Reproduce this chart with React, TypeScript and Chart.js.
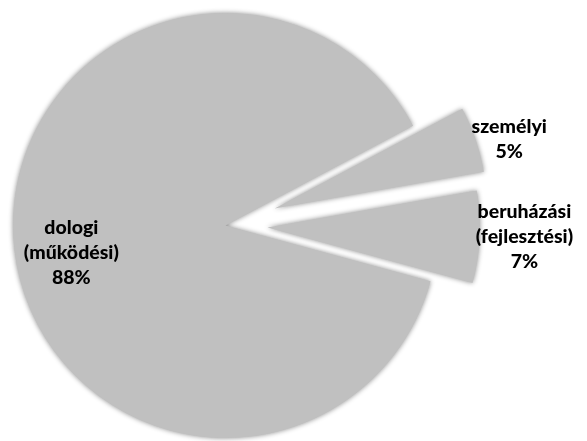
import React, { useEffect, useRef } from "react";
import { Chart, registerables } from "chart.js";

Chart.register(...registerables);

const categories: string[][] = [["személyi"], ["beruházási", "(fejlesztési)"], ["dologi", "(működési)"]];
const values: number[] = [5, 7, 88];
const percentLabels: string[] = ["5%", "7%", "88%"];

const SLICE_COLOR = "#c0c0c0";
const EXPLODE = [52, 42, 0];

const explodePlugin = {
  id: "explode",
  beforeDatasetsDraw(chart: any) {
    const meta = chart.getDatasetMeta(0);
    const ca = chart.chartArea;
    const cx = (ca.left + ca.right) / 2;
    const cy = (ca.top + ca.bottom) / 2;
    meta.data.forEach((arc: any, i: number) => {
      const mid = (arc.startAngle + arc.endAngle) / 2;
      const d = EXPLODE[i] || 0;
      arc.x = cx + Math.cos(mid) * d;
      arc.y = cy + Math.sin(mid) * d;
    });
    const ctx = chart.ctx;
    ctx.save();
    ctx.shadowColor = "rgba(0,0,0,0.45)";
    ctx.shadowBlur = 5;
    ctx.shadowOffsetX = 0;
    ctx.shadowOffsetY = 0;
  },
  afterDatasetsDraw(chart: any) {
    chart.ctx.restore();
  },
};

const labelPlugin = {
  id: "sliceLabels",
  afterDraw(chart: any) {
    const ctx = chart.ctx;
    const meta = chart.getDatasetMeta(0);
    const lineH = 25;
    ctx.save();
    ctx.font = "900 19.5px Lato";
    ctx.fillStyle = "#000";
    ctx.textBaseline = "middle";
    ctx.textAlign = "center";
    meta.data.forEach((arc: any, i: number) => {
      const lines = [...categories[i], percentLabels[i]];
      const mid = (arc.startAngle + arc.endAngle) / 2;
      const r = arc.outerRadius;
      let x: number, y: number;
      if (values[i] > 50) {
        x = arc.x + Math.cos(mid) * r * 0.73;
        y = arc.y + Math.sin(mid) * r * 0.73 + 10;
      } else {
        const px = arc.x + Math.cos(mid) * r;
        const py = arc.y + Math.sin(mid) * r;
        const w = Math.max(...lines.map((l) => ctx.measureText(l).width));
        x = px - 4 + w / 2;
        y = py;
      }
      const top = y - ((lines.length - 1) * lineH) / 2;
      lines.forEach((l, k) => ctx.fillText(l, x, top + k * lineH));
    });
    ctx.restore();
  },
};

export default function App() {
  const ref = useRef<HTMLCanvasElement>(null);
  useEffect(() => {
    if (!ref.current) return;
    const chart = new Chart(ref.current, {
      type: "pie",
      data: {
        labels: categories.map((c) => c.join(" ")),
        datasets: [
          {
            data: values,
            backgroundColor: SLICE_COLOR,
            borderWidth: 0,
            radius: 212.5,
          } as any,
        ],
      },
      options: {
        responsive: false,
        animation: false,
        rotation: 62,
        layout: { padding: { left: 0, right: 136, top: 10, bottom: 0 } },
        plugins: { legend: { display: false }, tooltip: { enabled: false } },
        events: [],
      } as any,
      plugins: [explodePlugin, labelPlugin],
    });
    return () => chart.destroy();
  }, []);
  return (
    <div style={{ position: "absolute", left: 0, top: 0, width: 587, height: 441, background: "#fff" }}>
      <canvas ref={ref} width={587} height={441} style={{ display: "block" }} />
    </div>
  );
}
